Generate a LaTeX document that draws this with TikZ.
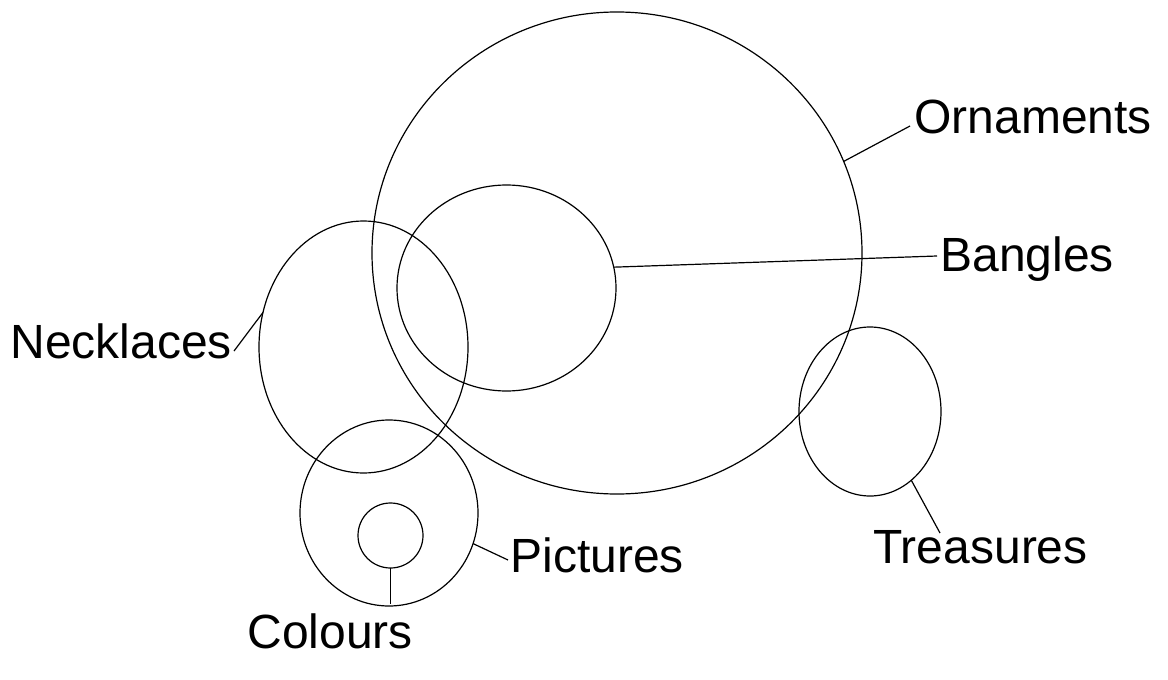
\documentclass[tikz,border=0pt]{standalone}
\usepackage{fontspec}
\setmainfont{Liberation Sans}
\usetikzlibrary{shapes.geometric}
\tikzset{
  setring/.style={draw,ellipse,inner sep=0pt,outer sep=0pt,line width=.6pt},
  setname/.style={anchor=base west,inner sep=0pt,font=\fontsize{24}{28}\selectfont},
  leader/.style={line width=.6pt}
}
\begin{document}
\begin{tikzpicture}[x=.5pt,y=-.5pt]
\useasboundingbox (0,0) rectangle (1168,680);
% the sets
\node[setring,minimum width=245pt,minimum height=241pt] (orn) at (617,253) {};
\node[setring,minimum width=109.5pt,minimum height=103pt] (bang) at (506.5,288) {};
\node[setring,minimum width=104.5pt,minimum height=126pt] (neck) at (363.5,347) {};
\node[setring,minimum width=89pt,minimum height=93pt] (pic) at (389,513) {};
\node[setring,minimum width=32.5pt,minimum height=32.5pt] (col) at (390.5,535.5) {};
\node[setring,minimum width=71pt,minimum height=84.5pt] (treas) at (870,411.5) {};
% the names
\node[setname] (ornlbl) at (914,133) {Ornaments};
\node[setname] (banglbl) at (940,271) {Bangles};
\node[setname] (necklbl) at (10,358) {Necklaces};
\node[setname] (piclbl) at (510,572) {Pictures};
\node[setname] (treaslbl) at (873,563) {Treasures};
\node[setname] (collbl) at (247,648) {Colours};
% leader ends
\coordinate (ornend) at (910,126);
\coordinate (bangend) at (937,256);
\coordinate (neckend) at (234,351);
\coordinate (picend) at (508,560);
\coordinate (treasend) at (940,533);
\coordinate (colend) at (390.5,604);
\draw[leader] (orn.22)--(ornend);
\draw[leader] (bang.11)--(bangend);
\draw[leader] (neck.161)--(neckend);
\draw[leader] (pic.-20)--(picend);
\draw[leader] (treas.-59)--(treasend);
\draw[leader] (col.south)--(colend);
\end{tikzpicture}
\end{document}
